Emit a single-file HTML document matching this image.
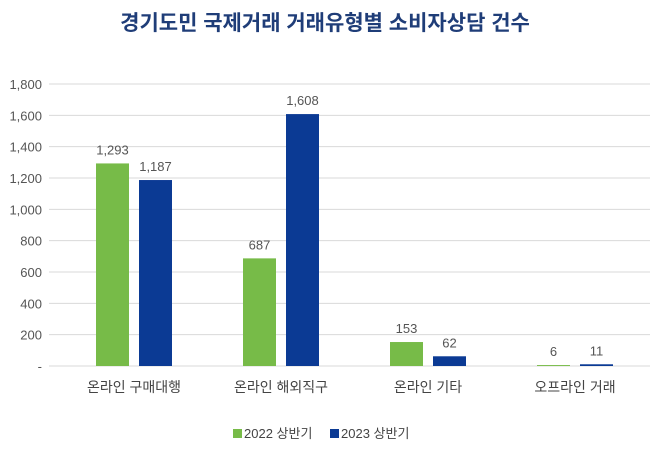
<!DOCTYPE html>
<html><head><meta charset="utf-8"><style>
body{margin:0;background:#fff;}
svg{display:block;font-family:"Liberation Sans","Noto Sans CJK KR",sans-serif;}
</style></head><body>
<svg id="c" width="650" height="452">
<text x="325" y="30" text-anchor="middle" font-size="21" font-weight="bold" fill="#1f3d78">경기도민 국제거래 거래유형별 소비자상담 건수</text>
<g id="grid"></g><g id="bars"></g>
<g>
<rect x="233" y="429" width="9" height="9" fill="#77bb48"/>
<text x="244" y="438" font-size="13" fill="#444">2022 상반기</text>
<rect x="330" y="429" width="9" height="9" fill="#0b3a94"/>
<text x="341" y="438" font-size="13" fill="#444">2023 상반기</text>
</g>
</svg>
<script>
const categories=["온라인 구매대행","온라인 해외직구","온라인 기타","오프라인 거래"];
const s2022=[1293,687,153,6];
const s2023=[1187,1608,62,11];
const ticks=[0,200,400,600,800,1000,1200,1400,1600,1800];
const ns="http://www.w3.org/2000/svg";
const y0=366,yTop=84,xL=49,xR=650;
const y=v=>y0-(v/1800)*(y0-yTop);
const cx=i=>134+i*147;
const g=document.getElementById("grid"),b=document.getElementById("bars");
function mk(t,a,p){const e=document.createElementNS(ns,t);for(const k in a)e.setAttribute(k,a[k]);p.appendChild(e);return e;}
ticks.forEach(t=>{
 const l=mk("line",{x1:xL,x2:xR,y1:y(t),y2:y(t),stroke:"#d9d9d9","stroke-width":1},g);
 
 
 const tx=mk("text",{x:42,y:y(t)+5,"text-anchor":"end","font-size":13,fill:"#555"},g);
 tx.textContent=t===0?"-":t.toLocaleString("en-US");
 
 
});
categories.forEach((c,i)=>{
 [[s2022,"#77bb48",-38],[s2023,"#0b3a94",5]].forEach(([s,col,off])=>{
  const v=s[i];
  const r=mk("rect",{x:cx(i)+off,y:y(v),width:33,height:y0-y(v),fill:col},b);
  
  
  const t=mk("text",{x:cx(i)+off+16.5,y:y(v)-9,"text-anchor":"middle","font-size":13,fill:"#555"},b);
  t.textContent=v.toLocaleString("en-US");
  
  
 });
 const t=mk("text",{x:cx(i),y:392,"text-anchor":"middle","font-size":14,fill:"#444"},b);
 t.textContent=c;
 
 
});
</script>
</body></html>
